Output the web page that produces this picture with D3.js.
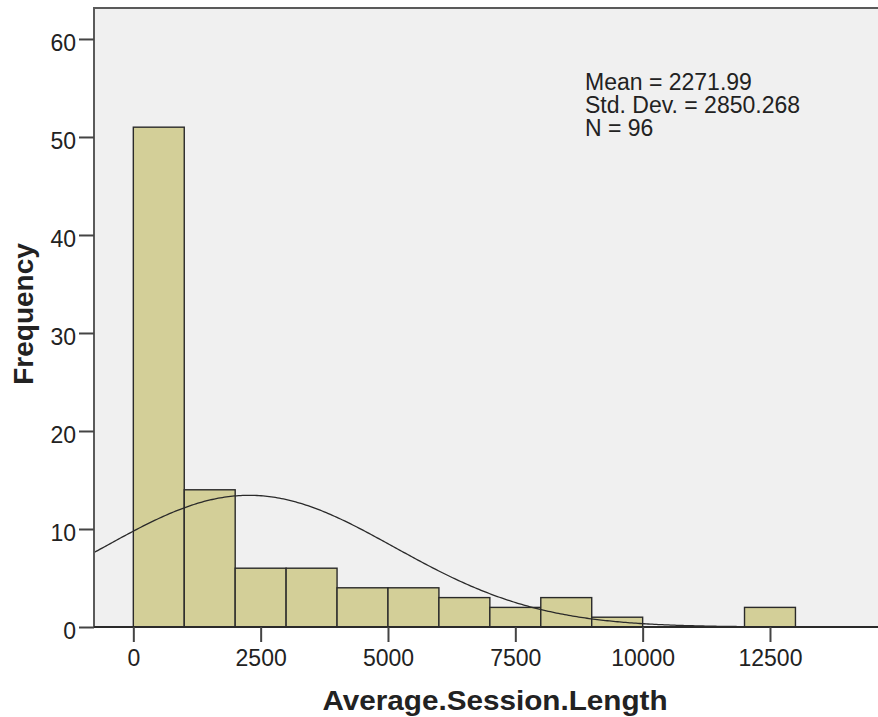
<!DOCTYPE html>
<html>
<head>
<meta charset="utf-8">
<script src="https://cdn.jsdelivr.net/npm/d3@7"></script>
<style>
  html, body { margin: 0; padding: 0; background: #fff; }
  svg { display: block; }
  text { font-family: "Liberation Sans", Arial, sans-serif; fill: #222; }
</style>
</head>
<body>
<svg id="chart" width="878" height="717"></svg>
<script>
// Histogram of Average.Session.Length, bin width 1000
const binStarts = [0, 1000, 2000, 3000, 4000, 5000, 6000, 7000, 8000, 9000, 10000, 11000, 12000];
const binCounts = [51, 14, 6, 6, 4, 4, 3, 2, 3, 1, 0, 0, 2];
const binWidth = 1000;
const xTicks = [0, 2500, 5000, 7500, 10000, 12500];
const yTicks = [0, 10, 20, 30, 40, 50, 60];
const statLines = ["Mean = 2271.99", "Std. Dev. = 2850.268", "N = 96"];
const meanVal = 2271.99;
const sdVal = 2850.268;
const nVal = 96;

const svg = d3.select("#chart");
const plot = { left: 94, right: 880, top: 8, bottom: 627 };

const x = d3.scaleLinear().domain([-772, 14660]).range([plot.left, plot.right]);
const y = d3.scaleLinear().domain([0, 63.16]).range([plot.bottom, plot.top]);

// plot background
svg.append("rect")
  .attr("x", plot.left).attr("y", plot.top)
  .attr("width", plot.right - plot.left).attr("height", plot.bottom - plot.top)
  .attr("fill", "#f0f0f0");

// bars
svg.append("g").selectAll("rect")
  .data(binStarts.map((s, i) => ({ s, c: binCounts[i] })).filter(d => d.c > 0))
  .join("rect")
  .attr("x", d => x(d.s))
  .attr("y", d => y(d.c))
  .attr("width", d => x(d.s + binWidth) - x(d.s))
  .attr("height", d => y(0) - y(d.c))
  .attr("fill", "#d3cf98")
  .attr("stroke", "#2a2a2a")
  .attr("stroke-width", 1.4);

// normal curve scaled to counts
const [x0, x1] = x.domain();
const curvePts = d3.range(x0, x1, 40).concat([x1]).map(v => {
  const z = (v - meanVal) / sdVal;
  return [v, nVal * binWidth / (sdVal * Math.sqrt(2 * Math.PI)) * Math.exp(-0.5 * z * z)];
});
svg.append("path")
  .datum(curvePts)
  .attr("fill", "none")
  .attr("stroke", "#2a2a2a")
  .attr("stroke-width", 1.3)
  .attr("d", d3.line().x(d => x(d[0])).y(d => y(d[1])));

// frame: left and top edges
svg.append("path")
  .attr("d", `M${plot.left},${plot.bottom}V${plot.top}H${plot.right}`)
  .attr("fill", "none").attr("stroke", "#5a5a5a").attr("stroke-width", 2);

// x axis
const xAxis = svg.append("g")
  .attr("transform", `translate(0,${plot.bottom})`)
  .call(d3.axisBottom(x).tickValues(xTicks).tickSize(15).tickPadding(8).tickFormat(d3.format("d")));
xAxis.select(".domain").attr("stroke", "#2a2a2a").attr("stroke-width", 2)
  .attr("d", `M${plot.left},0H${plot.right}`);
xAxis.selectAll(".tick line").attr("stroke", "#444").attr("stroke-width", 2);
xAxis.selectAll(".tick text").attr("font-size", 23).attr("fill", "#333")
  .style("font-family", "'Liberation Sans', Arial, sans-serif");

// y axis
const yAxis = svg.append("g")
  .attr("transform", `translate(${plot.left},0)`)
  .call(d3.axisLeft(y).tickValues(yTicks).tickSize(15).tickPadding(3));
yAxis.select(".domain").remove();
yAxis.selectAll(".tick line").attr("stroke", "#444").attr("stroke-width", 2);
yAxis.selectAll(".tick text").attr("font-size", 23).attr("fill", "#333").attr("dy", "0.5em")
  .style("font-family", "'Liberation Sans', Arial, sans-serif");

// summary statistics
svg.append("g").selectAll("text")
  .data(statLines)
  .join("text")
  .attr("x", 585)
  .attr("y", (d, i) => 90 + i * 23)
  .attr("font-size", 23)
  .attr("fill", "#333")
  .text(d => d);

// axis titles
svg.append("text")
  .attr("x", 495).attr("y", 710)
  .attr("text-anchor", "middle")
  .attr("font-size", 28).attr("font-weight", "bold").attr("fill", "#111")
  .attr("textLength", 345).attr("lengthAdjust", "spacingAndGlyphs")
  .text("Average.Session.Length");

svg.append("text")
  .attr("transform", "translate(33,314) rotate(-90)")
  .attr("text-anchor", "middle")
  .attr("font-size", 28).attr("font-weight", "bold").attr("fill", "#111")
  .text("Frequency");
</script>
</body>
</html>
